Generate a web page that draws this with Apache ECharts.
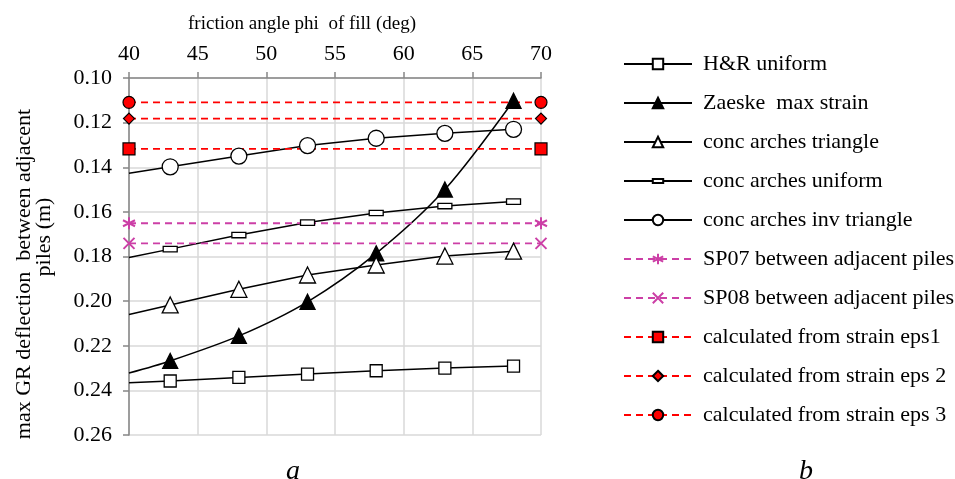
<!DOCTYPE html>
<html>
<head>
<meta charset="utf-8">
<script src="https://cdn.jsdelivr.net/npm/echarts@6/dist/echarts.min.js"></script>
<style>
  html, body { margin: 0; padding: 0; background: #fff; }
  #chart { width: 955px; height: 479px; }
</style>
</head>
<body>
<div id="chart"></div>
<script>
// x positions of the measured points and the trend start
const phiStart = 40
const phi = [43, 48, 53, 58, 63, 68]
const phiEnds = [40, 70]

// max GR deflection (m), value at phi=40 is the line start without marker
const hrUniformStart = 0.2366
const hrUniform = [0.2358, 0.2342, 0.2327, 0.2312, 0.2300, 0.2291]
const zaeskeStart = 0.2322
const zaeske = [0.2268, 0.2156, 0.2003, 0.1786, 0.1500, 0.1102]
const concTriangleStart = 0.2060
const concTriangle = [0.2017, 0.1947, 0.1883, 0.1838, 0.1798, 0.1776]
const concUniformStart = 0.1804
const concUniform = [0.1767, 0.1704, 0.1648, 0.1605, 0.1574, 0.1554]
const concInvTriStart = 0.1427
const concInvTri = [0.1398, 0.1350, 0.1303, 0.1270, 0.1248, 0.1230]

// constant levels
const sp07 = 0.1651
const sp08 = 0.1741
const eps1 = 0.1318
const eps2 = 0.1182
const eps3 = 0.1109

const xTicks = [40, 45, 50, 55, 60, 65, 70]

const FONT = 'Liberation Serif'
const PINK = '#cc3fa6'

const withStart = (start, vals) =>
  [{ value: [phiStart, start], symbol: 'none' }].concat(vals.map((v, i) => [phi[i], v]))

const flat = v => phiEnds.map(x => [x, v])

const solid = (name, data, symbol, size, fill, smooth) => ({
  name: name,
  type: 'line',
  data: data,
  symbol: symbol,
  symbolSize: size,
  smooth: smooth || 0,
  clip: false,
  lineStyle: { color: '#000', width: 1.5 },
  itemStyle: { color: fill, borderColor: '#000', borderWidth: 1.3 }
})

const dashed = (name, v, symbol, size, color, border) => ({
  name: name,
  type: 'line',
  data: flat(v),
  symbol: symbol,
  symbolSize: size,
  clip: false,
  lineStyle: { color: color, width: 1.8, type: [7, 5] },
  itemStyle: border
    ? { color: color, borderColor: '#000', borderWidth: 1.2 }
    : { color: color, borderColor: color, borderWidth: 2 }
})

const chart = echarts.init(document.getElementById('chart'))

const option = {
  animation: false,
  backgroundColor: '#fff',
  textStyle: { fontFamily: FONT },
  grid: { left: 129, right: 414, top: 78, bottom: 44 },
  xAxis: {
    type: 'value',
    position: 'top',
    min: 40,
    max: 70,
    interval: 5,
    axisLine: { show: true, lineStyle: { color: '#868686', width: 1.5 } },
    axisTick: { show: true, inside: false, length: 6, lineStyle: { color: '#868686', width: 1.5 } },
    axisLabel: { fontFamily: FONT, fontSize: 22, color: '#000', margin: 13,
      customValues: xTicks },
    splitLine: { show: true, lineStyle: { color: '#d9d9d9', width: 1.5 } }
  },
  yAxis: {
    type: 'value',
    inverse: true,
    min: 0.10,
    max: 0.26,
    interval: 0.02,
    axisLine: { show: true, lineStyle: { color: '#868686', width: 1.5 } },
    axisTick: { show: true, inside: false, length: 6, lineStyle: { color: '#868686', width: 1.5 } },
    axisLabel: { fontFamily: FONT, fontSize: 22, color: '#000', margin: 17,
      formatter: v => v.toFixed(2) },
    splitLine: { show: true, lineStyle: { color: '#d9d9d9', width: 1.5 } }
  },
  legend: {
    orient: 'vertical',
    left: 623,
    top: 53,
    padding: 0,
    itemWidth: 68,
    itemHeight: 13,
    itemGap: 17,
    textStyle: { fontFamily: FONT, fontSize: 22, color: '#000', padding: [0, 0, 0, 6] },
    data: [
      'H&R uniform', 'Zaeske  max strain', 'conc arches triangle', 'conc arches uniform',
      'conc arches inv triangle', 'SP07 between adjacent piles', 'SP08 between adjacent piles',
      'calculated from strain eps1', 'calculated from strain eps 2', 'calculated from strain eps 3'
    ]
  },
  graphic: [
    { type: 'text', x: 302, y: 24,
      style: { text: 'friction angle phi  of fill (deg)', font: '19px "Liberation Serif"',
        fill: '#000', textAlign: 'center', textVerticalAlign: 'middle' } },
    { type: 'text', x: 24, y: 274, rotation: Math.PI / 2,
      style: { text: 'max GR deflection  between adjacent', font: '22px "Liberation Serif"',
        fill: '#000', textAlign: 'center', textVerticalAlign: 'middle' } },
    { type: 'text', x: 44, y: 237, rotation: Math.PI / 2,
      style: { text: 'piles (m)', font: '22px "Liberation Serif"',
        fill: '#000', textAlign: 'center', textVerticalAlign: 'middle' } },
    { type: 'text', x: 293, y: 472,
      style: { text: 'a', font: 'italic 28px "Liberation Serif"', fill: '#000',
        textAlign: 'center', textVerticalAlign: 'middle' } },
    { type: 'text', x: 806, y: 472,
      style: { text: 'b', font: 'italic 28px "Liberation Serif"', fill: '#000',
        textAlign: 'center', textVerticalAlign: 'middle' } }
  ],
  series: [
    solid('H&R uniform', withStart(hrUniformStart, hrUniform), 'rect', 12, '#fff'),
    solid('Zaeske  max strain', withStart(zaeskeStart, zaeske), 'triangle', 15, '#000', 0.3),
    solid('conc arches triangle', withStart(concTriangleStart, concTriangle), 'triangle', 16, '#fff'),
    // thin flat box inside a square frame so the legend keeps the shape
    solid('conc arches uniform', withStart(concUniformStart, concUniform),
      'path://M0,0M26,26M0,8h26v10h-26z', 14, '#fff'),
    solid('conc arches inv triangle', withStart(concInvTriStart, concInvTri), 'circle', 16, '#fff'),
    dashed('SP07 between adjacent piles', sp07,
      'path://M5,0L5,10M0.67,2.5L9.33,7.5M0.67,7.5L9.33,2.5', 12, PINK, false),
    dashed('SP08 between adjacent piles', sp08, 'path://M0,0L10,10M0,10L10,0', 11, PINK, false),
    dashed('calculated from strain eps1', eps1, 'rect', 12, '#ff0000', true),
    dashed('calculated from strain eps 2', eps2, 'diamond', 11, '#ff0000', true),
    dashed('calculated from strain eps 3', eps3, 'circle', 12, '#ff0000', true)
  ]
}

chart.setOption(option)
</script>
</body>
</html>
